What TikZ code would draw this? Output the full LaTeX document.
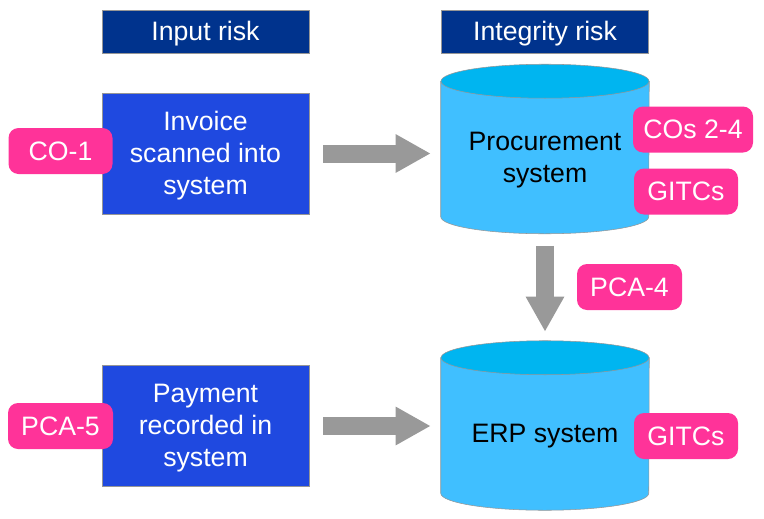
\documentclass[tikz,border=0pt]{standalone}
\usepackage{fontspec}
\setmainfont{Liberation Sans}
\usetikzlibrary{arrows.meta, positioning, backgrounds}
\definecolor{hdrnavy}{RGB}{0, 51, 141}
\definecolor{boxblue}{RGB}{31, 73, 224}
\definecolor{tagpink}{RGB}{255, 51, 153}
\definecolor{cylbody}{RGB}{64, 191, 255}
\definecolor{cyltop}{RGB}{0, 181, 240}
\definecolor{arrowgray}{RGB}{153, 153, 153}
\definecolor{edgegray}{RGB}{150, 150, 150}

\begin{document}
\begin{tikzpicture}[x=0.75pt, y=-0.75pt,
  txt/.style={font=\fontsize{20}{24}\selectfont, align=center, inner sep=0pt},
  header/.style={txt, draw=edgegray, fill=hdrnavy, text=white, text depth=1pt,
                 minimum width=155.25pt, minimum height=32.25pt},
  stepbox/.style={txt, draw=edgegray, fill=boxblue, text=white, text depth=1pt,
                  minimum width=155.25pt, minimum height=91pt},
  dbnode/.style={txt, text depth=0.5pt, minimum width=156pt, minimum height=114pt},
  tag/.style={txt, fill=tagpink, text=white, rounded corners=7.5pt, minimum height=34.5pt},
  flow/.style={line width=13.5pt, arrowgray, -{Triangle[length=26.25pt, width=27pt]}},
]
\useasboundingbox (0,0) rectangle (764,518);

% Headers
\node[header] (inrisk) at (205.5, 31.5) {Input risk};
\node[header] (intrisk) at (545, 31.5) {Integrity risk};

% Input steps
\node[stepbox] (scan) at (205.5, 153.5) {Invoice\\scanned into\\system};
\node[stepbox] (pay) at (205.5, 426) {Payment\\recorded in\\system};

% Systems (cylinders drawn behind)
\node[dbnode] (proc) at (545, 157.5) {Procurement\\system};
\node[dbnode] (erp) at (545, 434) {ERP system};

\begin{scope}[on background layer]
\foreach \db in {proc, erp} {
  \filldraw[draw=edgegray, fill=cylbody] (\db.north west) -- ([yshift=12.75pt]\db.south west)
    arc[start angle=180, end angle=360, x radius=78pt, y radius=12.75pt]
    -- (\db.north east) -- cycle;
  \filldraw[draw=edgegray, fill=cyltop] (\db.north) ellipse[x radius=78pt, y radius=12.75pt];
}
\end{scope}

% Flow arrows
\draw[flow, shorten <=10.5pt, shorten >=7.5pt] (scan.east) -- (scan.east -| proc.west);
\draw[flow, shorten <=10.5pt, shorten >=7.5pt] (pay.east) -- (pay.east -| erp.west);
\draw[flow, shorten <=9pt, shorten >=6.75pt] (proc.south) -- ([yshift=12.75pt]erp.north);

% Controls
\node[tag, minimum width=78pt] (co1) at (60.5, 151) {CO-1};
\node[tag, minimum width=90pt] (co24) at (693, 129.5) {COs 2-4};
\node[tag, minimum width=78pt] (gitc1) at (686, 191.5) {GITCs};
\node[tag, minimum width=78.75pt] (pca4) at (629.5, 287) {PCA-4};
\node[tag, minimum width=78pt] (gitc2) at (686, 436) {GITCs};
\node[tag, minimum width=78.75pt] (pca5) at (60.5, 426) {PCA-5};
\end{tikzpicture}
\end{document}
